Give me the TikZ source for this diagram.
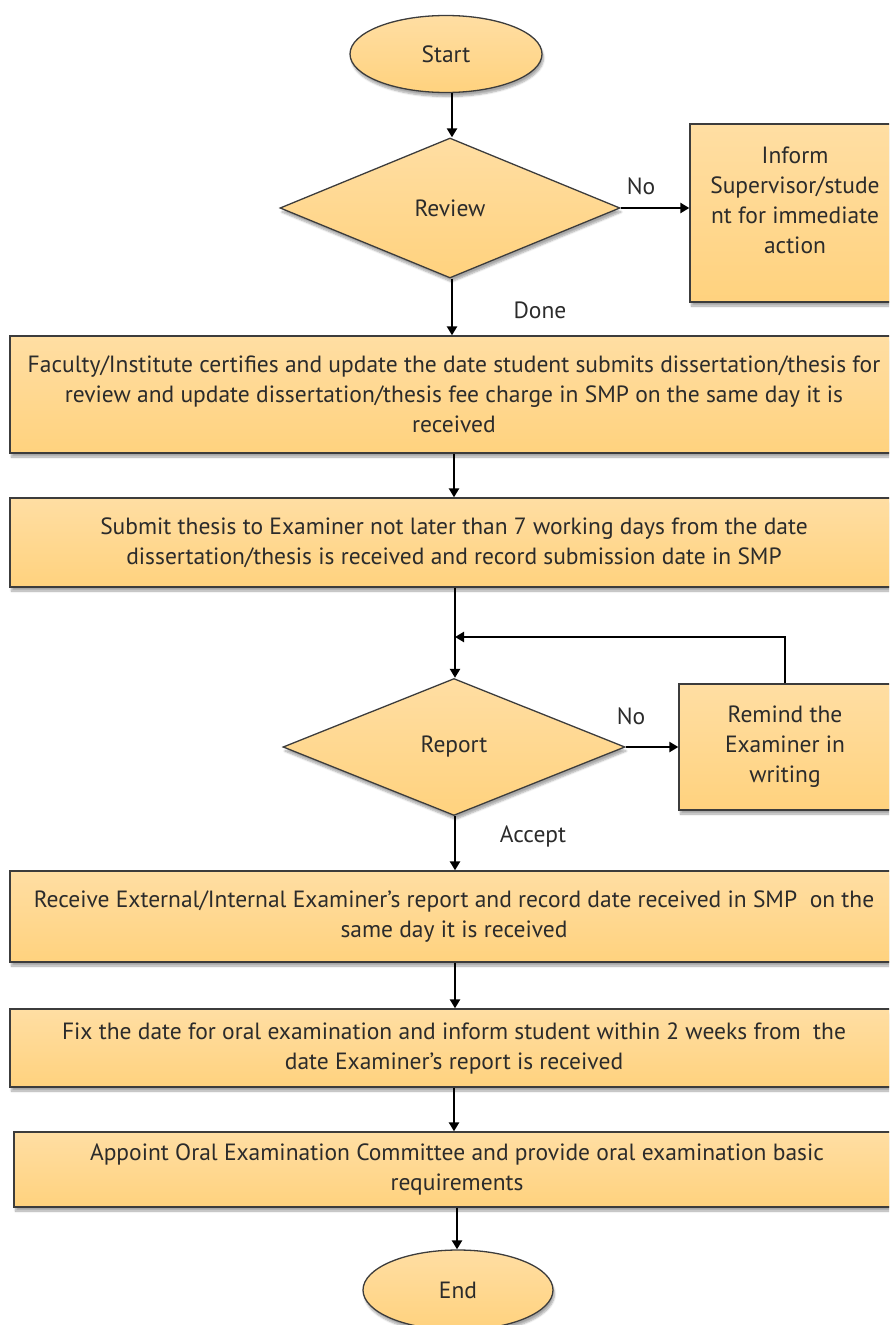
\documentclass[tikz,border=0pt]{standalone}
\usepackage{fontspec}
\setmainfont{PT Sans}
\usetikzlibrary{shapes.geometric,arrows.meta,shadows.blur}
\definecolor{boxtop}{HTML}{FFDEA3}
\definecolor{boxbot}{HTML}{FFD27E}
\definecolor{edge}{HTML}{3C3C3C}
\definecolor{ink}{HTML}{2B2B2B}
\tikzset{
  shapebase/.style={draw=edge, line width=1.3pt, top color=boxtop, bottom color=boxbot,
    text=ink, font=\fontsize{23.5}{30}\selectfont, align=center, inner sep=0pt,
    blur shadow={shadow xshift=1.5pt, shadow yshift=-4pt, shadow opacity=35, shadow blur steps=6}},
  terminal/.style={shapebase, ellipse, minimum width=192pt, minimum height=77pt},
  decision/.style={shapebase, diamond, aspect=2.45},
  stepbox/.style={shapebase, rectangle},
  arr/.style={-{Triangle[length=9pt,width=10pt]}, line width=2.4pt, black},
  lbl/.style={text=ink, font=\fontsize{23.5}{28}\selectfont, inner sep=0pt}
}
\begin{document}
\begin{tikzpicture}[x=1pt,y=-1pt]
\useasboundingbox (0,0) rectangle (889,1325);
\clip (0,0) rectangle (889,1325);

% main flow
\node[terminal] (start) at (446,54) {Start};
\node[decision, minimum width=340pt, minimum height=140pt] (review) at (450,208) {Review};
\node[stepbox, minimum width=210pt, minimum height=178pt] (inform) at (795,213)
  {Inform\\Supervisor/stude\\nt for immediate\\action\\[-4pt]};
\node[stepbox, minimum width=888pt, minimum height=117pt] (certify) at (454,394.5)
  {Faculty/Institute certifies and update the date student submits dissertation/thesis for\\
   review and update dissertation/thesis fee charge in SMP on the same day it is\\
   received};
\node[stepbox, minimum width=888pt, minimum height=89pt] (submit) at (454,542.5)
  {Submit thesis to Examiner not later than 7 working days from the date\\
   dissertation/thesis is received and record submission date in SMP};
\node[decision, minimum width=342pt, minimum height=137pt] (report) at (454,747) {Report};
\node[stepbox, minimum width=212pt, minimum height=126pt] (remind) at (785,747)
  {Remind the\\Examiner in\\writing};
\node[stepbox, minimum width=888pt, minimum height=91pt] (receive) at (454,916.5)
  {Receive External/Internal Examiner’s report and record date received in SMP~ on the\\
   same day it is received};
\node[stepbox, minimum width=888pt, minimum height=78pt] (fixdate) at (454,1048)
  {Fix the date for oral examination and inform student within 2 weeks from~ the\\
   date Examiner’s report is received};
\node[stepbox, minimum width=886pt, minimum height=75pt] (appoint) at (457,1169.5)
  {Appoint Oral Examination Committee and provide oral examination basic\\
   requirements};
\node[terminal, minimum width=190pt, minimum height=80pt] (end) at (458,1290) {End};

% branch labels
\node[lbl] (noA) at (641,186) {No};
\node[lbl] (done) at (540,310) {Done};
\node[lbl] (noB) at (631,716) {No};
\node[lbl] (accept) at (533,836) {Accept};

% connectors
\coordinate (loop) at (455,637);
\draw[arr] (start.south -| 452,0) -- (review.north -| 452,0);
\draw[arr] (review.east) -- (inform.west |- review.east);
\draw[arr] (review.south -| 452,0) -- (certify.north -| 452,0);
\draw[arr] (certify.south -| 454,0) -- (submit.north -| 454,0);
\draw[arr] (submit.south -| 455,0) -- (report.north -| 455,0);
\draw[arr] (remind.north) |- (loop);
\draw[arr] (report.east) -- (remind.west |- report.east);
\draw[arr] (report.south -| 455,0) -- (receive.north -| 455,0);
\draw[arr] (receive.south -| 455,0) -- (fixdate.north -| 455,0);
\draw[arr] (fixdate.south -| 454,0) -- (appoint.north -| 454,0);
\draw[arr] (appoint.south -| 457,0) -- (end.north -| 457,0);
\end{tikzpicture}
\end{document}
